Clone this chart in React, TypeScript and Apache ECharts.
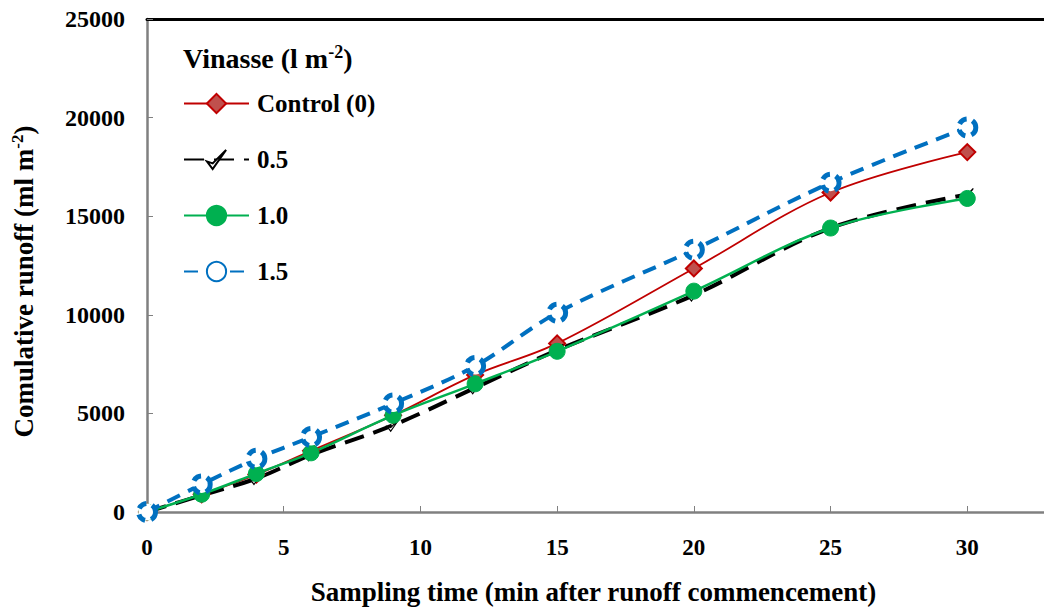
import React, { useEffect, useRef } from "react";
import * as echarts from "echarts";

const times = [0, 2, 4, 6, 9, 12, 15, 20, 25, 30];
const seriesNames = ["Control (0)", "0.5", "1.0", "1.5"];
const control = [0, 900, 1900, 3100, 4900, 6950, 8550, 12350, 16200, 18250];
const half = [0, 850, 1700, 2900, 4400, 6300, 8200, 11000, 14400, 16100];
const one = [0, 900, 1950, 3000, 4900, 6500, 8150, 11200, 14400, 15900];
const oneHalf = [0, 1400, 2700, 3800, 5500, 7400, 10100, 13300, 16700, 19500];
const xTicks = [0, 5, 10, 15, 20, 25, 30, 35];
const yTicks = [0, 5000, 10000, 15000, 20000, 25000];

const FONT = "'Liberation Serif', 'Times New Roman', serif";

const pair = (vals: number[]) => times.map((t, i) => [t, vals[i]]);

export default function App() {
  const ref = useRef<HTMLDivElement>(null);
  useEffect(() => {
    document.body.style.margin = "0";
    const chart = echarts.init(ref.current!, null, { renderer: "svg" });
    const textBase = { fontFamily: FONT, fontWeight: "bold" as const, color: "#000" };
    chart.setOption({
      animation: false,
      backgroundColor: "#fff",
      grid: { left: 147, top: 19, bottom: 100, right: 0, outerBoundsMode: "none", containLabel: false },
      xAxis: [
        {
          type: "value",
          min: xTicks[0],
          max: xTicks[xTicks.length - 1],
          interval: 5,
          name: "Sampling time (min after runoff commencement)",
          nameLocation: "middle",
          nameGap: 66,
          nameTextStyle: { ...textBase, fontSize: 27, padding: [0, 64, 0, 0] },
          axisLine: { show: true, lineStyle: { color: "#808080", width: 2.5 } },
          axisTick: { show: true, inside: true, length: 6, lineStyle: { color: "#808080", width: 1 } },
          axisLabel: {
            ...textBase,
            fontSize: 23,
            margin: 24,
            formatter: (v: number) => (v > 30 ? "" : String(v)),
          },
          splitLine: { show: false },
        },
        {
          type: "value",
          position: "top",
          min: 0,
          max: 35,
          axisLine: { show: true, lineStyle: { color: "#000", width: 3 } },
          axisTick: { show: false },
          axisLabel: { show: false },
          splitLine: { show: false },
        },
      ],
      yAxis: {
        type: "value",
        min: yTicks[0],
        max: yTicks[yTicks.length - 1],
        interval: 5000,
        name: "Comulative runoff (ml m{sup|-2})",
        nameLocation: "middle",
        nameGap: 109,
        nameRotate: 90,
        nameTextStyle: {
          ...textBase,
          fontSize: 27,
          padding: [0, 32, 0, 0],
          rich: { sup: { ...textBase, fontSize: 17, verticalAlign: "top", padding: [0, 0, 12, 0] } },
        },
        axisLine: { show: true, lineStyle: { color: "#808080", width: 2.5 } },
        axisTick: { show: true, inside: true, length: 6, lineStyle: { color: "#808080", width: 1 } },
        axisLabel: { ...textBase, fontSize: 24, margin: 22, formatter: (v: number) => String(v) },
        splitLine: { show: false },
      },
      legend: {
        orient: "vertical",
        left: 183,
        top: 91,
        padding: 0,
        itemWidth: 65,
        itemHeight: 24,
        itemGap: 31,
        data: seriesNames,
        textStyle: { ...textBase, fontSize: 25, lineHeight: 24, padding: [0, 0, 0, 3] },
      },
      graphic: [
        {
          type: "text",
          left: 183,
          top: 43,
          style: {
            text: "Vinasse (l m{sup|-2})",
            font: `bold 28px ${FONT}`,
            fill: "#000",
            rich: { sup: { fontFamily: FONT, fontWeight: "bold", fontSize: 18, fill: "#000", verticalAlign: "top", padding: [0, 0, 12, 0] } },
          },
        },
      ],
      series: [
        {
          name: seriesNames[0],
          type: "line",
          smooth: 0.35,
          data: pair(control),
          symbol: "diamond",
          symbolSize: 16,
          lineStyle: { color: "#c00000", width: 1.8 },
          itemStyle: { color: "#c0504d", borderColor: "#c00000", borderWidth: 2 },
        },
        {
          name: seriesNames[1],
          type: "line",
          smooth: 0.35,
          data: pair(half),
          symbol: "path://M0,6 L3,10 L10,0 L3,7 Z",
          symbolSize: [12, 12],
          lineStyle: { color: "#000", width: 4, type: [20, 10] },
          itemStyle: { color: "#fff", borderColor: "#000", borderWidth: 1.2 },
        },
        {
          name: seriesNames[2],
          type: "line",
          smooth: 0.35,
          data: pair(one),
          symbol: "circle",
          symbolSize: 16,
          lineStyle: { color: "#00b050", width: 2.5 },
          itemStyle: { color: "#00b050", borderColor: "#00b050", borderWidth: 1 },
        },
        {
          name: seriesNames[3],
          type: "line",
          smooth: 0.35,
          data: pair(oneHalf),
          symbol: "circle",
          symbolSize: 17,
          lineStyle: { color: "#0070c0", width: 4, type: [14, 9] },
          itemStyle: { color: "#fff", borderColor: "#0070c0", borderWidth: 5, borderType: [9, 6] },
        },
      ],
    });
    return () => chart.dispose();
  }, []);
  return (
    <div style={{ width: 1044, height: 612, position: "absolute", left: 0, top: 0, overflow: "hidden" }}>
      <div ref={ref} style={{ width: 1104, height: 612 }} />
    </div>
  );
}
